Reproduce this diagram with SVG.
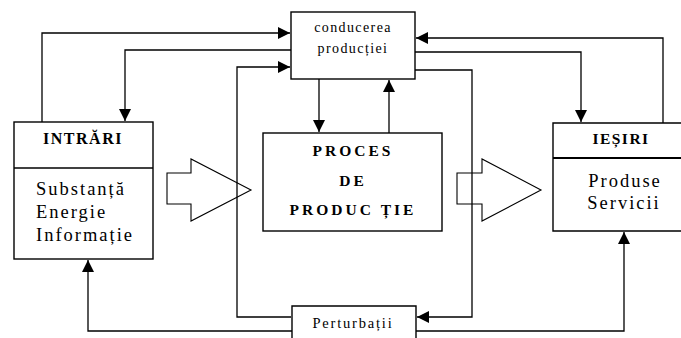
<svg xmlns="http://www.w3.org/2000/svg" width="681" height="338" viewBox="0 0 681 338">
<style>
.box{fill:#fff;stroke:#000;stroke-width:1.4}
.ln{fill:none;stroke:#000;stroke-width:1.3}
.big{fill:#fff;stroke:#000;stroke-width:1.1}
text{font-family:"Liberation Serif","Times New Roman",serif;fill:#000}
.b{font-weight:bold}
</style>
<defs>
<marker id="ah" viewBox="0 0 12 12" refX="12" refY="6" markerWidth="12" markerHeight="12" markerUnits="userSpaceOnUse" orient="auto">
<path d="M0,0 L12,6 L0,12 Z" fill="#000"/>
</marker>
</defs>
<rect width="681" height="338" fill="#fff"/>
<g id="big-arrows">
<polygon class="big" points="167,173 191,173 191,159 251,190 191,221 191,204 167,204"/>
<polygon class="big" points="457,173 482,173 482,159 541,190 482,221 482,204 457,204"/>
</g>
<g id="connectors">
<path class="ln" d="M42,122 V33 H290" marker-end="url(#ah)"/>
<path class="ln" d="M291,50 H125 V121" marker-end="url(#ah)"/>
<path class="ln" d="M291,317 H237 V67 H290" marker-end="url(#ah)"/>
<path class="ln" d="M319,79 V132" marker-end="url(#ah)"/>
<path class="ln" d="M389,133 V80" marker-end="url(#ah)"/>
<path class="ln" d="M663,123 V38 H416" marker-end="url(#ah)"/>
<path class="ln" d="M415,52 H581 V122" marker-end="url(#ah)"/>
<path class="ln" d="M415,70 H472 V317 H417" marker-end="url(#ah)"/>
<path class="ln" d="M416,331 H624 V232" marker-end="url(#ah)"/>
<path class="ln" d="M292,331 H88 V260" marker-end="url(#ah)"/>
</g>
<g id="conducerea">
<rect class="box" x="291" y="12" width="124" height="67"/>
<text x="353" y="32" font-size="14" text-anchor="middle" letter-spacing="1.4">conducerea</text>
<text x="353" y="53" font-size="14" text-anchor="middle" letter-spacing="1.4">producției</text>
</g>
<g id="intrari">
<rect class="box" x="14" y="122" width="139" height="137"/>
<line class="ln" x1="14" y1="168" x2="153" y2="168"/>
<text class="b" x="83" y="144" font-size="16" text-anchor="middle" letter-spacing="1.5">INTRĂRI</text>
<text x="36" y="195" font-size="18.5" letter-spacing="2">Substanță</text>
<text x="36" y="218" font-size="18.5" letter-spacing="2">Energie</text>
<text x="36" y="241" font-size="18.5" letter-spacing="2">Informație</text>
</g>
<g id="proces">
<rect class="box" x="263" y="133" width="179" height="98"/>
<text class="b" x="353" y="156" font-size="15.5" text-anchor="middle" letter-spacing="3">PROCES</text>
<text class="b" x="353" y="186" font-size="15.5" text-anchor="middle" letter-spacing="3">DE</text>
<text class="b" x="353" y="215" font-size="15.5" text-anchor="middle" letter-spacing="3">PRODUC ȚIE</text>
</g>
<g id="iesiri">
<path class="box" d="M681,123 H553 V231 H681"/>
<line x1="553" y1="158" x2="681" y2="158" stroke="#000" stroke-width="2"/>
<text class="b" x="621" y="144" font-size="15.5" text-anchor="middle" letter-spacing="1.5">IEȘIRI</text>
<text x="625" y="187" font-size="18.5" text-anchor="middle" letter-spacing="2">Produse</text>
<text x="624" y="209" font-size="18.5" text-anchor="middle" letter-spacing="2">Servicii</text>
</g>
<g id="perturbatii">
<path class="box" d="M292,338 V306 H416 V338"/>
<text x="353" y="328" font-size="14.5" text-anchor="middle" letter-spacing="1.8">Perturbații</text>
</g>
</svg>
